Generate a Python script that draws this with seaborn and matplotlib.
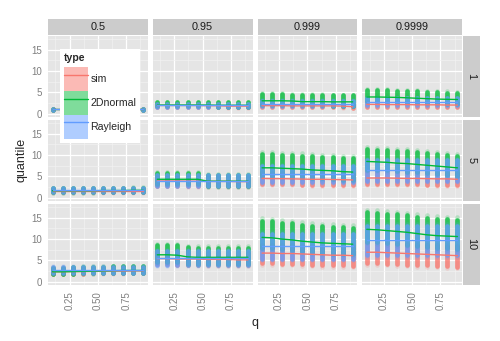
import matplotlib
matplotlib.use("Agg")
import matplotlib.pyplot as plt
import pandas as pd
import seaborn as sns
from matplotlib.patches import Patch
from matplotlib.lines import Line2D

sns.set_style("white")
plt.rcParams["font.family"] = ["Liberation Sans", "DejaVu Sans"]

# ---- data -------------------------------------------------------------
q = [0.100, 0.189, 0.278, 0.367, 0.456, 0.544, 0.633, 0.722, 0.811, 0.900]
alphas = ["0.5", "0.95", "0.999", "0.9999"]
sizes = ["1", "5", "10"]
types = ["sim", "2Dnormal", "Rayleigh"]
palette = {"sim": "#F8766D", "2Dnormal": "#00BA38", "Rayleigh": "#619CFF"}

# central quantile per q, indexed [size][alpha][q]
sim_mid = [
    [[0.95, 0.95, 0.95, 0.95, 0.95, 0.95, 0.95, 0.95, 0.95, 0.95],
     [1.90, 1.90, 1.90, 1.90, 1.90, 1.85, 1.85, 1.75, 1.75, 1.75],
     [1.85, 1.85, 1.85, 1.80, 1.80, 1.80, 1.80, 1.80, 1.75, 1.60],
     [2.15, 2.15, 2.10, 2.10, 2.10, 2.05, 2.05, 2.05, 2.00, 2.00]],
    [[1.60, 1.60, 1.60, 1.60, 1.60, 1.60, 1.60, 1.60, 1.60, 1.60],
     [3.90, 3.90, 3.90, 3.85, 3.85, 3.80, 3.80, 3.80, 3.75, 3.75],
     [4.50, 4.45, 4.45, 4.40, 4.35, 4.30, 4.30, 4.25, 4.20, 4.15],
     [4.60, 4.60, 4.60, 4.55, 4.50, 4.50, 4.45, 4.40, 4.40, 4.30]],
    [[2.30, 2.30, 2.35, 2.35, 2.40, 2.40, 2.45, 2.45, 2.50, 2.50],
     [5.40, 5.40, 5.30, 5.30, 5.30, 5.20, 5.20, 5.20, 5.10, 5.10],
     [6.70, 6.70, 6.60, 6.60, 6.50, 6.40, 6.30, 6.20, 6.20, 6.10],
     [6.90, 6.90, 6.80, 6.70, 6.60, 6.50, 6.40, 6.30, 6.20, 6.10]],
]
normal_mid = [
    [[1.00, 1.00, 1.00, 1.00, 1.00, 1.00, 1.00, 1.00, 1.00, 1.00],
     [2.00, 2.00, 2.00, 2.00, 2.00, 2.00, 1.95, 1.95, 1.95, 1.95],
     [3.00, 3.00, 3.00, 2.95, 2.80, 2.80, 2.80, 2.75, 2.75, 2.75],
     [3.90, 3.90, 3.85, 3.80, 3.70, 3.60, 3.50, 3.40, 3.35, 3.30]],
    [[1.60, 1.60, 1.60, 1.60, 1.60, 1.65, 1.65, 1.65, 1.70, 1.70],
     [4.30, 4.30, 4.30, 4.30, 4.30, 3.85, 3.85, 3.85, 3.85, 3.85],
     [7.00, 7.00, 6.90, 6.80, 6.70, 6.50, 6.40, 6.30, 6.10, 6.00],
     [8.50, 8.40, 8.30, 8.10, 8.00, 7.80, 7.60, 7.40, 7.20, 7.00]],
    [[2.30, 2.30, 2.35, 2.40, 2.45, 2.50, 2.55, 2.60, 2.60, 2.60],
     [6.30, 6.30, 6.20, 5.80, 5.70, 5.70, 5.70, 5.70, 5.70, 5.70],
     [10.4, 10.3, 10.0, 9.80, 9.50, 9.30, 9.10, 9.00, 8.90, 8.80],
     [12.3, 12.2, 12.0, 11.8, 11.6, 11.3, 11.0, 10.8, 10.7, 10.6]],
]
rayleigh_mid = [
    [[1.00, 1.00, 1.00, 1.00, 1.00, 1.00, 1.00, 1.00, 1.00, 1.00],
     [1.90, 1.90, 1.90, 1.90, 1.90, 1.90, 1.90, 1.90, 1.90, 1.90],
     [2.35, 2.35, 2.35, 2.35, 2.35, 2.35, 2.35, 2.35, 2.35, 2.35],
     [2.75, 2.75, 2.75, 2.75, 2.75, 2.75, 2.75, 2.75, 2.75, 2.75]],
    [[1.75, 1.75, 1.75, 1.75, 1.75, 1.75, 1.75, 1.75, 1.75, 1.75],
     [4.00, 4.00, 4.00, 4.00, 4.00, 4.00, 4.00, 4.00, 4.00, 4.00],
     [5.50, 5.50, 5.50, 5.50, 5.50, 5.50, 5.50, 5.50, 5.50, 5.50],
     [6.40, 6.40, 6.40, 6.40, 6.40, 6.40, 6.40, 6.40, 6.40, 6.40]],
    [[2.60, 2.60, 2.60, 2.60, 2.60, 2.60, 2.60, 2.60, 2.60, 2.60],
     [5.50, 5.50, 5.50, 5.50, 5.50, 5.50, 5.50, 5.50, 5.50, 5.50],
     [8.30, 8.30, 8.30, 8.30, 8.30, 8.30, 8.30, 8.30, 8.30, 8.30],
     [9.70, 9.70, 9.70, 9.70, 9.70, 9.70, 9.70, 9.70, 9.70, 9.70]],
]

# spread of the replicate quantiles (below, above the centre), [size][alpha]
sim_spread = [
    [(0.1, 0.1), (0.3, 0.3), (0.3, 0.4), (0.5, 0.5)],
    [(0.4, 0.5), (1.1, 1.2), (1.3, 1.4), (1.4, 1.4)],
    [(0.5, 0.9), (1.3, 1.6), (2.4, 1.9), (2.6, 2.2)],
]
normal_spread = [
    [(0.1, 0.1), (0.3, 0.7), (0.9, 1.5), (1.0, 1.6)],
    [(0.4, 0.6), (1.2, 1.5), (1.9, 3.2), (1.9, 2.9)],
    [(0.5, 1.0), (1.6, 2.3), (2.4, 3.9), (2.9, 4.0)],
]
rayleigh_spread = [
    [(0.1, 0.1), (0.3, 0.4), (0.5, 0.7), (0.8, 0.8)],
    [(0.4, 0.5), (1.2, 1.2), (1.9, 1.9), (2.4, 2.4)],
    [(0.6, 0.9), (1.7, 1.7), (2.9, 2.9), (3.4, 3.4)],
]

mids = {"sim": sim_mid, "2Dnormal": normal_mid, "Rayleigh": rayleigh_mid}
spreads = {"sim": sim_spread, "2Dnormal": normal_spread, "Rayleigh": rayleigh_spread}

rows = []
for i, n in enumerate(sizes):
    for j, a in enumerate(alphas):
        for t in types:
            lo, hi = spreads[t][i][j]
            for k, qq in enumerate(q):
                m = mids[t][i][j][k]
                rows.append(dict(size=n, alpha=a, type=t, q=qq,
                                 quantile=m, low=m - lo, high=m + hi))
df = pd.DataFrame(rows)

# ---- layout (pixel boxes on a 500 x 341 canvas) ------------------------
W, H = 500, 341
fig = plt.figure(figsize=(W / 100, H / 100), dpi=100)


def box(x0, y0, x1, y1):
    return [x0 / W, 1 - y1 / H, (x1 - x0) / W, (y1 - y0) / H]


col_x = [48 + j * (99.75 + 5) for j in range(4)]
row_y = [36 + i * (81 + 3) for i in range(3)]
pw, ph = 99.75, 81

TICK_GREY = "#7F7F7F"
for i, n in enumerate(sizes):
    for j, a in enumerate(alphas):
        x0, y0 = col_x[j], row_y[i]
        ax = fig.add_axes(box(x0, y0, x0 + pw, y0 + ph))
        ax.set_facecolor("#E5E5E5")
        sub = df[(df["size"] == n) & (df["alpha"] == a)]
        for t in types:
            s = sub[sub["type"] == t]
            ext_lo = s["quantile"] - (s["quantile"] - s["low"]) * 1.15
            ext_hi = s["quantile"] + (s["high"] - s["quantile"]) * 1.15
            ax.vlines(s["q"], ext_lo, ext_hi, color=palette[t], lw=3.4,
                      alpha=0.2, capstyle="round", zorder=2)
            ax.vlines(s["q"], s["low"], s["high"], color=palette[t], lw=3.4,
                      alpha=0.75, capstyle="round", zorder=2)
        sns.lineplot(data=sub, x="q", y="quantile", hue="type",
                     hue_order=types, palette=palette, estimator=None,
                     sort=False, linewidth=1.0, legend=False, ax=ax, zorder=3)
        ax.set_xlim(0.06, 0.94)
        ax.set_ylim(-0.82, 18.27)
        ax.set_xticks([0.25, 0.5, 0.75])
        ax.set_xticks([0.125, 0.375, 0.625, 0.875], minor=True)
        ax.set_yticks([0, 5, 10, 15])
        ax.set_yticks([2.5, 7.5, 12.5, 17.5], minor=True)
        ax.grid(which="major", color="white", lw=0.9)
        ax.grid(which="minor", color="#F2F2F2", lw=0.45)
        ax.set_axisbelow(True)
        for sp in ax.spines.values():
            sp.set_visible(False)
        ax.set_xlabel("")
        ax.set_ylabel("")
        ax.tick_params(which="minor", length=0)
        ax.tick_params(which="major", length=3, width=0.8, color=TICK_GREY,
                       labelcolor=TICK_GREY, labelsize=7, pad=1.5)
        if j == 0:
            ax.set_yticklabels(["0", "5", "10", "15"])
        else:
            ax.tick_params(axis="y", length=0, labelleft=False)
        if i == len(sizes) - 1:
            ax.set_xticklabels(["0.25", "0.50", "0.75"], rotation=90)
        else:
            ax.tick_params(axis="x", length=0, labelbottom=False)

# facet strips
for j, a in enumerate(alphas):
    sax = fig.add_axes(box(col_x[j], 19, col_x[j] + pw, 35))
    sax.set_facecolor("#CCCCCC")
    sax.set_xticks([]); sax.set_yticks([])
    for sp in sax.spines.values():
        sp.set_visible(False)
    sax.text(0.5, 0.5, a, ha="center", va="center", fontsize=7.8,
             color="#1A1A1A", transform=sax.transAxes)
for i, n in enumerate(sizes):
    sax = fig.add_axes(box(463, row_y[i], 480, row_y[i] + ph))
    sax.set_facecolor("#CCCCCC")
    sax.set_xticks([]); sax.set_yticks([])
    for sp in sax.spines.values():
        sp.set_visible(False)
    sax.text(0.5, 0.5, n, ha="center", va="center", fontsize=7.8,
             rotation=-90, color="#1A1A1A", transform=sax.transAxes)

# axis titles
fig.text(255 / W, 1 - 323 / H, "q", ha="center", va="center", fontsize=9)
fig.text(21 / W, 1 - 160 / H, "quantile", ha="center", va="center",
         rotation=90, fontsize=9)

# legend
handles = [(Patch(facecolor=palette[t], alpha=0.5, edgecolor="none"),
            Line2D([], [], color=palette[t], lw=1.0)) for t in types]
leg = fig.legend(handles, types, loc="upper left",
                 bbox_to_anchor=(60 / W, 1 - 49 / H),
                 bbox_transform=fig.transFigure, frameon=True,
                 facecolor="white", edgecolor="none", fancybox=False,
                 framealpha=1, borderaxespad=0, borderpad=0.38,
                 handlelength=2.27, handleheight=3.1, labelspacing=0,
                 handletextpad=0.25, fontsize=7.6, title="type",
                 title_fontproperties={"weight": "bold", "size": 7.6},
                 alignment="left")
leg._legend_box.sep = 3

fig.savefig("out.png", dpi=100)
